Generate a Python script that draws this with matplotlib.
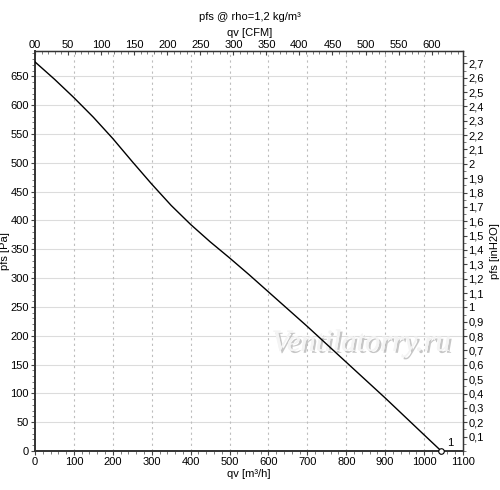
import matplotlib
matplotlib.use("Agg")
import matplotlib.pyplot as plt
import matplotlib.patheffects as pe
import numpy as np

# fan curve
qv = [0, 50, 100, 150, 200, 250, 300, 350, 400, 450, 500, 550, 600,
      650, 700, 750, 800, 850, 900, 950, 1000, 1044]
pfs = [675, 645, 613, 579, 542, 502, 463, 426, 393, 363, 335, 306, 276,
       246, 216, 185, 154, 123, 92, 60, 28, 0]

cfm_ticks = list(range(0, 601, 50))
cfm_labels = ["00"] + [str(t) for t in cfm_ticks[1:]]
inh2o_ticks = [i / 10 for i in range(1, 28)]
inh2o_labels = [("%g" % t).replace(".", ",") for t in inh2o_ticks]

M3H_PER_CFM = 1.699
PA_PER_INH2O = 249.09

plt.rcParams['font.family'] = ['Liberation Sans', 'DejaVu Sans']
plt.rcParams['font.size'] = 8

fig = plt.figure(figsize=(5, 4.9), dpi=100)
ax = fig.add_axes([0.07, 0.0796, 0.856, 0.8164])

ax.set_xlim(0, 1100)
ax.set_ylim(0, 694)

# grid
for y in range(50, 694, 50):
    ax.axhline(y, color='#dcdcdc', lw=0.8, zorder=0)
for x in range(100, 1100, 100):
    ax.axvline(x, color='#bdbdbd', lw=0.8, ls=(0, (2, 3)), zorder=0)

ax.plot(qv, pfs, color='black', lw=1.0, zorder=3)
ax.plot(qv[-1], pfs[-1], 'o', ms=4, mfc='white', mec='black', mew=0.8, zorder=4, clip_on=False)
ax.text(1068, 14, "1", fontsize=8, ha='center', va='center')

# watermark
ax.text(838, 187, "Ventilatorry.ru", fontsize=22, family='Liberation Serif', style='italic',
        color='#f4f4f4', ha='center', va='center', zorder=1,
        path_effects=[pe.withSimplePatchShadow(offset=(1.5, -1.5), shadow_rgbFace='#b8b8b8', alpha=0.8),
                      pe.Normal()])

ax.set_xticks(range(0, 1101, 100))
ax.set_xticks(range(0, 1101, 20), minor=True)
ax.set_yticks(range(0, 651, 50))
ax.set_yticks(range(0, 691, 10), minor=True)
ax.tick_params(which='major', length=3, width=0.8, color='#444444', pad=1.5)
ax.tick_params(which='minor', length=2, width=0.6, color='#666666')
for s in ax.spines.values():
    s.set_color('#333333')
    s.set_linewidth(1.0)
ax.spines['left'].set_linewidth(1.4)
ax.spines['bottom'].set_linewidth(1.4)

ax.set_xlabel("qv [m³/h]", labelpad=1)
ax.set_ylabel("pfs [Pa]")
ax.yaxis.set_label_coords(-0.058, 0.5)

top = ax.secondary_xaxis('top', functions=(lambda v: v / M3H_PER_CFM, lambda v: v * M3H_PER_CFM))
top.set_xticks(cfm_ticks)
top.set_xticklabels(cfm_labels)
top.set_xticks(range(0, 641, 10), minor=True)
top.tick_params(which='major', direction='in', length=3, width=0.8, color='#444444', pad=1)
top.tick_params(which='minor', direction='in', length=2, width=0.6, color='#666666')

right = ax.secondary_yaxis('right', functions=(lambda v: v / PA_PER_INH2O, lambda v: v * PA_PER_INH2O))
right.set_yticks(inh2o_ticks)
right.set_yticklabels(inh2o_labels)
right.set_yticks([i / 20 for i in range(0, 56)], minor=True)
right.tick_params(which='major', length=3, width=0.8, color='#444444', pad=1)
right.tick_params(which='minor', length=2, width=0.6, color='#666666')
right.set_ylabel("pfs [inH2O]", rotation=90, labelpad=4)

fig.text(0.5, 0.965, "pfs @ rho=1,2 kg/m³", ha='center', va='center', fontsize=8)
fig.text(0.5, 0.932, "qv [CFM]", ha='center', va='center', fontsize=8)

fig.savefig("out.png", dpi=100, facecolor='white')
